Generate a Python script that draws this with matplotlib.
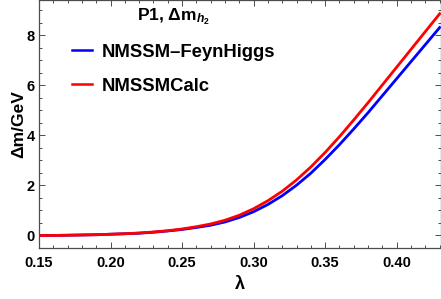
import numpy as np
import matplotlib
matplotlib.use("Agg")
import matplotlib.pyplot as plt
from matplotlib.ticker import MultipleLocator
from matplotlib.lines import Line2D

# data
lam = [0.15, 0.16, 0.17, 0.18, 0.19, 0.20, 0.21, 0.22, 0.23, 0.24,
       0.25, 0.26, 0.27, 0.28, 0.29, 0.30, 0.31, 0.32, 0.33, 0.34,
       0.35, 0.36, 0.37, 0.38, 0.39, 0.40, 0.41, 0.42, 0.43]
dm_feynhiggs = [0.00, 0.00, 0.01, 0.02, 0.03, 0.05, 0.07, 0.09, 0.13, 0.18,
                0.24, 0.32, 0.41, 0.54, 0.72, 0.95, 1.24, 1.59, 2.01, 2.49,
                3.04, 3.63, 4.26, 4.91, 5.59, 6.27, 6.95, 7.63, 8.31]
dm_nmssmcalc = [0.00, 0.00, 0.01, 0.02, 0.03, 0.05, 0.07, 0.10, 0.14, 0.19,
                0.26, 0.35, 0.46, 0.61, 0.81, 1.07, 1.39, 1.77, 2.22, 2.74,
                3.32, 3.95, 4.62, 5.31, 6.02, 6.73, 7.44, 8.15, 8.86]
labels = ["NMSSM\u2013FeynHiggs", "NMSSMCalc"]
colors = ["#0000ff", "#ff0000"]
x_ticks = [0.15, 0.20, 0.25, 0.30, 0.35, 0.40]
y_ticks = [0, 2, 4, 6, 8]

plt.rcParams['font.family'] = ['Liberation Sans', 'DejaVu Sans']
plt.rcParams['font.weight'] = 'bold'
plt.rcParams['mathtext.fontset'] = 'custom'
plt.rcParams['mathtext.rm'] = 'Liberation Sans:bold'
plt.rcParams['mathtext.it'] = 'Liberation Sans:italic:bold'
plt.rcParams['mathtext.bf'] = 'Liberation Sans:bold'

fig = plt.figure(figsize=(4.41, 2.99), dpi=100)
ax = fig.add_axes([0.0884, 0.1706, 0.9105, 0.8284])

ax.plot(lam, dm_feynhiggs, color=colors[0], lw=2.0)
ax.plot(lam, dm_nmssmcalc, color=colors[1], lw=2.0)

ax.set_xlim(0.15, 0.4306)
ax.set_ylim(-0.5, 9.4)

# Mathematica-like frame with inward ticks on all sides
frame_col = "#4d4d4d"
for sp in ax.spines.values():
    sp.set_color(frame_col)
    sp.set_linewidth(0.9)
ax.set_xticks(x_ticks)
ax.set_xticklabels([f"{t:.2f}" for t in x_ticks])
ax.set_yticks(y_ticks)
ax.xaxis.set_minor_locator(MultipleLocator(0.01))
ax.yaxis.set_minor_locator(MultipleLocator(0.5))
ax.tick_params(which='both', direction='in', top=True, right=True,
               color=frame_col, width=0.7)
ax.tick_params(which='major', length=4, labelsize=10.5)
ax.tick_params(which='minor', length=2)
ax.tick_params(axis='x', pad=6)
ax.tick_params(axis='y', pad=3)

ax.set_xlabel("\u03bb", fontsize=13, fontweight='bold', labelpad=4)
ax.set_ylabel("\u0394m/GeV", fontsize=12.5, fontweight='bold', labelpad=0)

handles = [Line2D([], [], color=c, lw=1.8) for c in colors]
leg = ax.legend(handles, labels, title="P1, \u0394m$_{h_2}$",
                loc='upper left', bbox_to_anchor=(68 / 441, 1 - 3 / 299),
                bbox_transform=fig.transFigure, frameon=False,
                prop={'size': 13.3, 'weight': 'bold'},
                handlelength=1.1, handletextpad=0.55, labelspacing=0.9,
                borderpad=0.2, borderaxespad=0)
leg.get_title().set_fontsize(12.5)
leg.get_title().set_fontweight('bold')

fig.savefig("out.png", dpi=100)
